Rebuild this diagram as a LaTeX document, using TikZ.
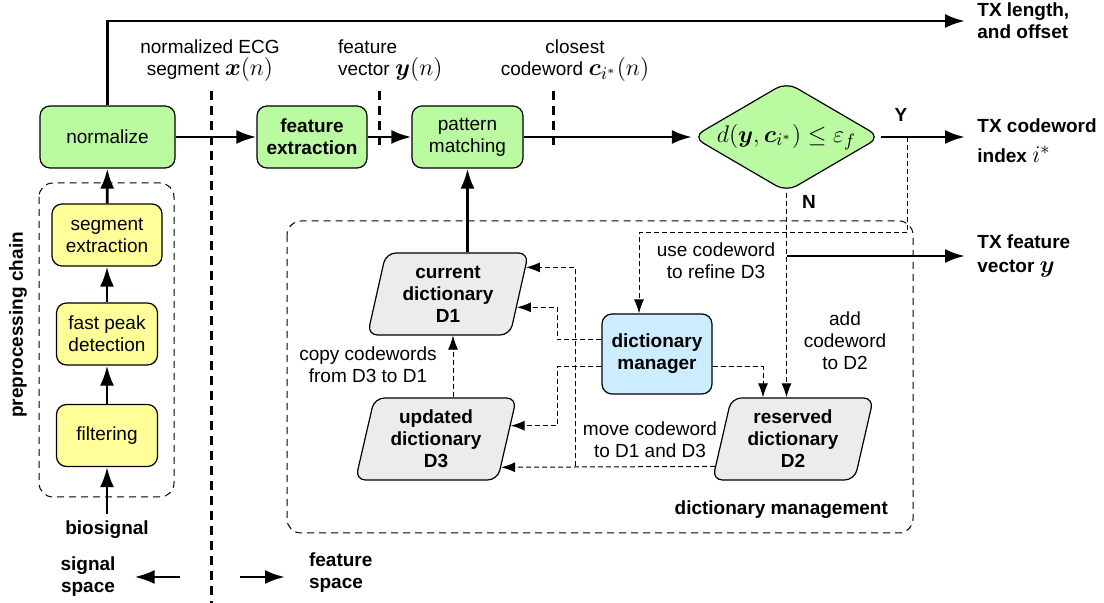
\documentclass[tikz,border=0pt]{standalone}
\usepackage{amsmath,amssymb}
\usepackage[no-math]{fontspec}
\setmainfont{Liberation Sans}
\usepackage{xcolor}
\usetikzlibrary{shapes, shapes.geometric}
\usetikzlibrary{positioning, arrows.meta, calc}
\definecolor{lgreen}{RGB}{186,250,160}
\definecolor{lyellow}{RGB}{255,255,153}
\definecolor{lblue}{RGB}{204,236,255}
\definecolor{lgrey}{RGB}{236,236,236}
\newcommand{\fs}{\fontsize{9.5}{11}\selectfont}
\newcommand{\mth}[1]{{\fontsize{12.5}{13}\selectfont$#1$}}

\begin{document}
\begin{tikzpicture}
  [x=0.5pt, y=-0.5pt, font=\fs,
   blk/.style={draw, rounded corners=5pt, line width=0.6pt, align=center, minimum height=31pt, inner sep=1pt},
   grn/.style={blk, fill=lgreen},
   ylw/.style={blk, fill=lyellow},
   dict/.style={trapezium, trapezium left angle=73, trapezium right angle=107, trapezium stretches body,
     draw, rounded corners=5pt, line width=0.6pt, fill=lgrey, font=\fs\bfseries, align=center,
     minimum height=41pt, minimum width=80.5pt, inner sep=1pt},
   dec/.style={diamond, draw, rounded corners=6pt, line width=0.6pt, fill=lgreen,
     minimum width=94pt, minimum height=55pt, inner sep=0pt},
   flow/.style={-{Latex[length=10pt,width=7pt]}, line width=1.4pt},
   ctl/.style={-{Latex[length=7pt,width=5pt]}, line width=0.5pt, dash pattern=on 2.5pt off 1.5pt},
   divline/.style={line width=1.5pt, dash pattern=on 4.5pt off 3pt},
   grp/.style={draw, rounded corners=7pt, line width=0.5pt, dash pattern=on 3.5pt off 2.5pt},
   lbl/.style={align=center},
   txout/.style={font=\fs\bfseries, align=left, anchor=west, inner sep=0pt}]

  \useasboundingbox (0,0) rectangle (1104,603);

  \draw[grp] (39,183) rectangle (174,497);
  \draw[grp] (287,221) rectangle (913,533);
  \draw[divline] (211,91) -- (211,603);
  \draw[divline] (379,91) -- (379,150);
  \draw[divline] (553,91) -- (553,150);

  \node[grn, minimum width=67.5pt] (norm) at (107.5,137) {normalize};
  \node[grn, minimum width=55pt, font=\fs\bfseries] (fext) at (312,137) {feature\\extraction};
  \node[grn, minimum width=55.5pt] (pmatch) at (467.5,137) {pattern\\matching};
  \node[dec, label={center:\mth{d(\boldsymbol{y},\boldsymbol{c}_{i^*})\le\varepsilon_f}}] (test) at (786.5,137) {};

  \node[ylw, minimum width=55pt] (seg) at (107,235) {segment\\extraction};
  \node[ylw, minimum width=50.5pt] (peak) at (107,334) {fast peak\\detection};
  \node[ylw, minimum width=50.5pt] (filt) at (107,435.5) {filtering};
  \node[font=\fs\bfseries] (bio) at (107,530) {biosignal};

  \node[dict] (cur) at (448,294) {current\\dictionary\\D1};
  \node[dict] (upd) at (436,439) {updated\\dictionary\\D3};
  \node[dict] (res) at (793,439) {reserved\\dictionary\\D2};
  \node[blk, fill=lblue, font=\fs\bfseries, minimum width=55pt, minimum height=40pt] (mgr) at (657,354) {dictionary\\manager};

  \node[txout] (txlen) at (977,21) {TX length,\\and offset};
  \node[txout] (txidx) at (977,141) {TX codeword\\[4pt]index \mth{i^*}};
  \node[txout] (txfeat) at (977,256) {TX feature\\[1pt]vector \mth{\boldsymbol{y}}};

  \node[lbl] (lx) at (210,61) {normalized ECG\\segment \mth{\boldsymbol{x}(n)}};
  \node[align=left, anchor=west] (ly) at (331,61) {feature\\vector \mth{\boldsymbol{y}(n)}};
  \node[lbl] (lc) at (575,61) {closest\\codeword \mth{\boldsymbol{c}_{i^*}(n)}};
  \node[lbl] (lcopy) at (368,365) {copy codewords\\from D3 to D1};
  \node[lbl] (lref) at (716,261) {use codeword\\to refine D3};
  \node[lbl] (lmove) at (650,440) {move codeword\\to D1 and D3};
  \node[lbl] (ladd) at (845,341) {add\\codeword\\to D2};
  \node[font=\fs\bfseries, anchor=east] (ldm) at (895,510) {dictionary management};
  \node[font=\fs\bfseries, rotate=90] (lpre) at (18,325) {preprocessing chain};
  \node[font=\fs\bfseries, align=center] (lsig) at (88,577) {signal\\space};
  \node[font=\fs\bfseries, align=left, anchor=west] (lfeat) at (302,573) {feature\\space};
  \node[font=\fs\bfseries] (lyes) at (901,115) {Y};
  \node[font=\fs\bfseries] (lno) at (809,202) {N};

  \draw[flow] (filt.south |- bio.north) -- (filt.south);
  \draw[flow] (filt) -- (peak);
  \draw[flow] (peak) -- (seg);
  \draw[flow] (seg) -- (norm);
  \draw[flow] (norm) -- (fext);
  \draw[flow] (fext) -- (pmatch);
  \draw[flow] (pmatch) -- (test.west);
  \draw[flow] (test.east) -- ([xshift=-6pt]test.east -| txidx.west);
  \draw[flow] (norm.north) |- ([xshift=-6pt]txlen.west);
  \draw[flow] (test.south |- txfeat.west) -- ([xshift=-6pt]txfeat.west);
  \draw[flow] (pmatch.south |- cur.north) -- (pmatch.south);
  \draw[flow] ([xshift=28.5pt]lsig.east) -- ([xshift=6pt]lsig.east);
  \draw[flow] ([xshift=-31pt,yshift=-2pt]lfeat.west) -- ([xshift=-8.5pt,yshift=-2pt]lfeat.west);

  \coordinate (ytap) at ($(test.east)!0.27!(txidx.west |- test.east)$);
  \draw[ctl] (ytap) -- ++(0,96) -| ([xshift=-9pt]mgr.north);
  \draw[ctl] (test.south) -- (test.south |- res.north);
  \draw[ctl] ([xshift=8.5pt]upd.north) -- ([xshift=8.5pt]upd.north |- cur.south);

  \draw[ctl] ([yshift=7pt]mgr.west) -- ++(-44,0) |- ($(cur.bottom right corner)!0.34!(cur.top right corner)$);
  \draw[ctl] ([yshift=-6.5pt]mgr.west) -- ++(-44,0) |- ($(upd.bottom right corner)!0.66!(upd.top right corner)$);
  \draw[ctl] ([yshift=-6.5pt]mgr.east) -| ([xshift=-15pt]res.north);

  \coordinate (resl) at ($(res.bottom left corner)!0.17!(res.top left corner)$);
  \draw[ctl] (resl) -- ($(upd.bottom right corner)!0.16!(upd.top right corner)$);
  \path (resl) ++(-140,0) coordinate (mvj);
  \draw[ctl] (mvj) |- ($(cur.bottom right corner)!0.82!(cur.top right corner)$);
\end{tikzpicture}
\end{document}
